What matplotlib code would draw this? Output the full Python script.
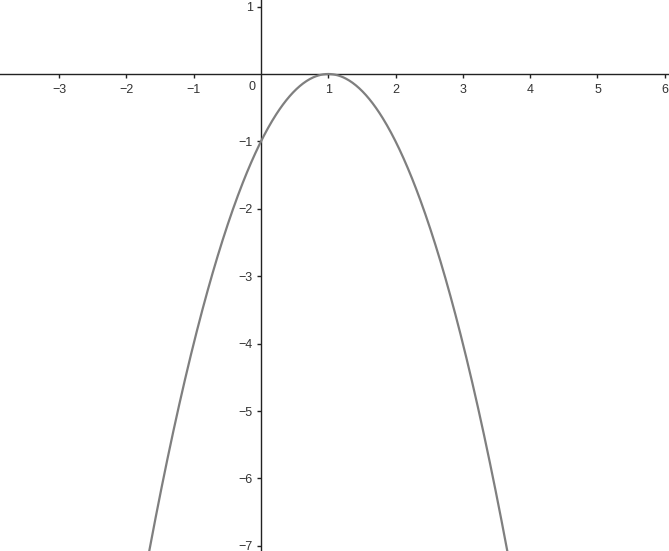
import numpy as np
from matplotlib import pyplot as plt

plt.rcParams["font.family"] = ["Liberation Sans", "DejaVu Sans"]

# parabola y = a * (x - h)^2 + k
a = -1.0
h = 1.0
k = 0.0

x_ticks = [-3, -2, -1, 1, 2, 3, 4, 5, 6]
y_ticks = [-7, -6, -5, -4, -3, -2, -1, 1]

x_min, x_max = -3.878, 6.063
y_min, y_max = -7.077, 1.098

fig = plt.figure(figsize=(6.69, 5.51), dpi=100)
ax = fig.add_axes([0, 0, 1, 1])

xs = np.linspace(x_min, x_max, 800)
ax.plot(xs, a * (xs - h) ** 2 + k, color="#7f7f7f", linewidth=1.6, zorder=3)

ax.set_xlim(x_min, x_max)
ax.set_ylim(y_min, y_max)

for side in ["top", "right"]:
    ax.spines[side].set_visible(False)
ax.spines["left"].set_position(("data", 0))
ax.spines["bottom"].set_position(("data", 0))
for side in ["left", "bottom"]:
    ax.spines[side].set_linewidth(1.0)
    ax.spines[side].set_color("#222222")

ax.set_xticks(x_ticks)
ax.set_yticks(y_ticks)
ax.set_xticklabels([f"{v}".replace("-", "\u2212") for v in x_ticks])
ax.set_yticklabels([f"{v}".replace("-", "\u2212") for v in y_ticks])
ax.tick_params(axis="both", direction="out", length=3, width=1,
               color="#222222", labelsize=9, labelcolor="#333333")
ax.tick_params(axis="x", pad=4)
ax.tick_params(axis="y", pad=3)

ax.text(-0.08, -0.1, "0", ha="right", va="top", fontsize=9, color="#333333")

fig.savefig("out.png", dpi=100)
